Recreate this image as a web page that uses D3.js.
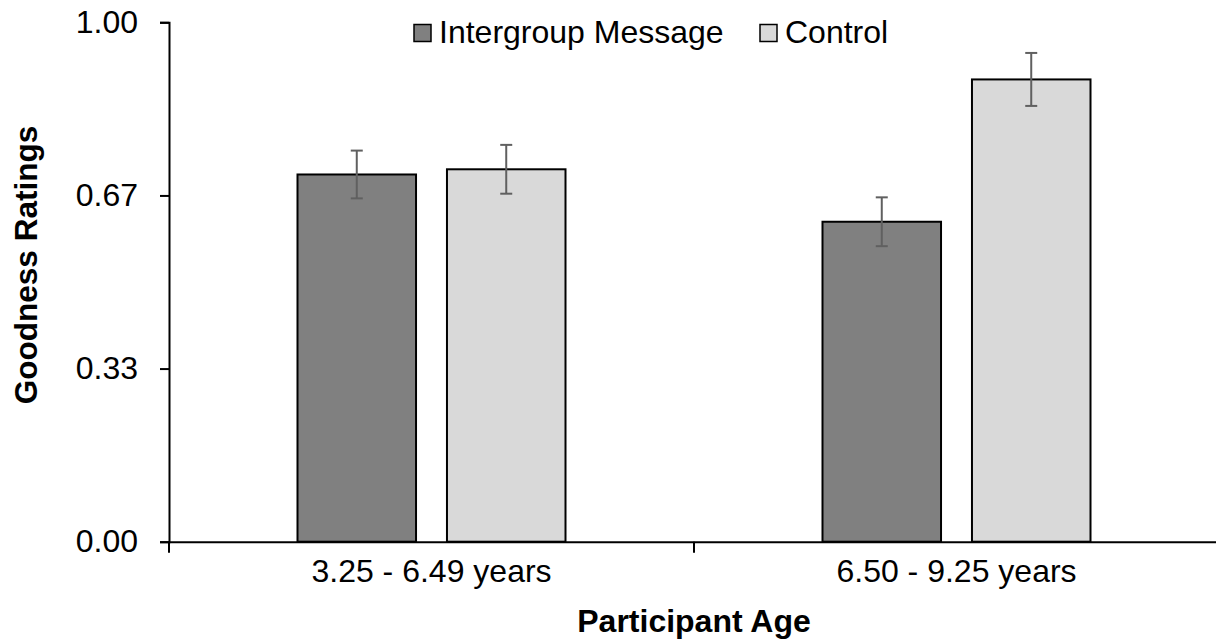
<!DOCTYPE html>
<html>
<head>
<meta charset="utf-8">
<script src="https://cdn.jsdelivr.net/npm/d3@7"></script>
<style>
  html, body { margin: 0; padding: 0; background: #fff; }
  svg { display: block; }
  text { font-family: "Liberation Sans", Arial, sans-serif; fill: #000; }
</style>
</head>
<body>
<svg id="chart" width="1216" height="641"></svg>
<script>
const categories = ["3.25 - 6.49 years", "6.50 - 9.25 years"];
const seriesNames = ["Intergroup Message", "Control"];
const intergroupValues = [0.707, 0.616];
const controlValues = [0.717, 0.890];
const intergroupErrors = [0.046, 0.047];
const controlErrors = [0.047, 0.051];
const yTickValues = [0, 1/3, 2/3, 1];
const yTickLabels = ["0.00", "0.33", "0.67", "1.00"];
const seriesColors = ["#808080", "#d9d9d9"];

const svg = d3.select("#chart");
const plotLeft = 169, plotRight = 1219, plotTop = 22.3, plotBottom = 541.7;

const x0 = d3.scaleBand().domain(categories).range([plotLeft, plotRight]).padding(0);
const bw = x0.bandwidth();
const groupW = 268;
const x1 = d3.scaleBand().domain(seriesNames)
  .range([(bw - groupW) / 2, (bw + groupW) / 2])
  .paddingInner(0.207).paddingOuter(0);
const y = d3.scaleLinear().domain([0, 1]).range([plotBottom, plotTop]);

const rows = categories.map((c, i) => ({
  cat: c,
  vals: [
    { s: seriesNames[0], v: intergroupValues[i], e: intergroupErrors[i], c: seriesColors[0] },
    { s: seriesNames[1], v: controlValues[i], e: controlErrors[i], c: seriesColors[1] }
  ]
}));

// bars
const g = svg.append("g");
const groups = g.selectAll("g.grp").data(rows).join("g").attr("class", "grp")
  .attr("transform", d => `translate(${x0(d.cat)},0)`);
groups.selectAll("rect").data(d => d.vals).join("rect")
  .attr("x", d => x1(d.s))
  .attr("y", d => y(d.v))
  .attr("width", x1.bandwidth())
  .attr("height", d => y(0) - y(d.v))
  .attr("fill", d => d.c)
  .attr("stroke", "#000")
  .attr("stroke-width", 2);

// error bars
const eb = groups.selectAll("g.err").data(d => d.vals).join("g").attr("class", "err")
  .attr("stroke", "#606060").attr("stroke-width", 2);
eb.append("line")
  .attr("x1", d => x1(d.s) + x1.bandwidth() / 2)
  .attr("x2", d => x1(d.s) + x1.bandwidth() / 2)
  .attr("y1", d => y(d.v + d.e)).attr("y2", d => y(d.v - d.e));
eb.append("line")
  .attr("x1", d => x1(d.s) + x1.bandwidth() / 2 - 6)
  .attr("x2", d => x1(d.s) + x1.bandwidth() / 2 + 6)
  .attr("y1", d => y(d.v + d.e)).attr("y2", d => y(d.v + d.e));
eb.append("line")
  .attr("x1", d => x1(d.s) + x1.bandwidth() / 2 - 6)
  .attr("x2", d => x1(d.s) + x1.bandwidth() / 2 + 6)
  .attr("y1", d => y(d.v - d.e)).attr("y2", d => y(d.v - d.e));

// y axis
const yAxis = d3.axisLeft(y).tickValues(yTickValues)
  .tickFormat((d, i) => yTickLabels[i]).tickSize(9).tickPadding(22);
const ya = svg.append("g").attr("transform", `translate(${plotLeft},0)`).call(yAxis);
ya.select(".domain").attr("stroke", "#000").attr("stroke-width", 2);
ya.selectAll(".tick line").attr("stroke", "#000").attr("stroke-width", 2);
ya.selectAll(".tick text").attr("font-size", 32).attr("font-family", "Liberation Sans, Arial, sans-serif");

// x axis
const xAxis = d3.axisBottom(x0).tickSize(0).tickPadding(0);
const xa = svg.append("g").attr("transform", `translate(0,${plotBottom})`).call(xAxis);
xa.select(".domain").attr("stroke", "#000").attr("stroke-width", 2);
xa.selectAll(".tick text").attr("font-size", 32).attr("dy", 0).attr("y", 40)
  .attr("font-family", "Liberation Sans, Arial, sans-serif");
// category boundary ticks
xa.selectAll("line.bound").data(categories).join("line").attr("class", "bound")
  .attr("x1", d => x0(d)).attr("x2", d => x0(d))
  .attr("y1", 0).attr("y2", 11).attr("stroke", "#000").attr("stroke-width", 2);

// axis titles
svg.append("text").attr("x", (plotLeft + plotRight) / 2).attr("y", 632)
  .attr("text-anchor", "middle").attr("font-size", 32).attr("font-weight", "bold")
  .text("Participant Age");
svg.append("text").attr("transform", "translate(37,265) rotate(-90)")
  .attr("text-anchor", "middle").attr("font-size", 31.5).attr("font-weight", "bold")
  .text("Goodness Ratings");

// legend
const legendX = [414, 760];
const lg = svg.selectAll("g.leg").data(seriesNames).join("g").attr("class", "leg")
  .attr("transform", (d, i) => `translate(${legendX[i]},0)`);
lg.append("rect").attr("x", 0).attr("y", 24.5).attr("width", 17).attr("height", 17)
  .attr("fill", (d, i) => seriesColors[i]).attr("stroke", "#000").attr("stroke-width", 1.5);
lg.append("text").attr("x", 25).attr("y", 42.5).attr("font-size", 32).text(d => d);
</script>
</body>
</html>
